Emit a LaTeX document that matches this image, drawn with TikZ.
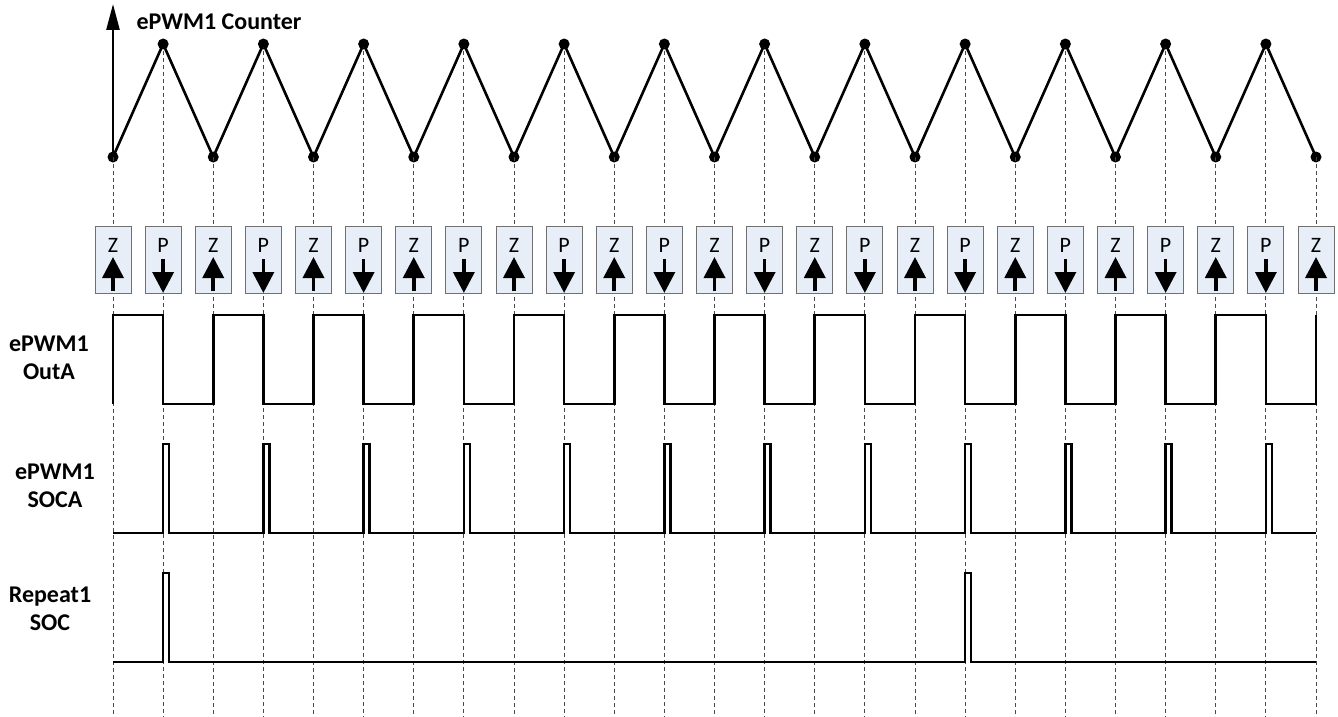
\documentclass[tikz,border=0pt]{standalone}
\usepackage{fontspec}
\setmainfont{Carlito}
\usetikzlibrary{arrows.meta}
\definecolor{EvtFill}{HTML}{E8EEF8}
\definecolor{EvtLine}{HTML}{707070}
\definecolor{GuideGray}{HTML}{4A4A4A}

\tikzset{
  evtbox/.style={draw=EvtLine, fill=EvtFill, line width=0.9pt, minimum width=36pt, minimum height=67pt, inner sep=0pt},
  evtlabel/.style={font=\fontsize{22}{24}\selectfont, inner sep=0pt},
  evtarrow/.style={line width=3.6pt, -{Triangle[width=21pt,length=21pt]}},
  cntdot/.style={circle, fill=black, inner sep=0pt, minimum size=11pt},
  wave/.style={line width=2.6pt, line join=miter},
  guide/.style={GuideGray, dash pattern=on 4pt off 3pt, line width=0.8pt},
  siglabel/.style={font=\bfseries\fontsize{24}{28}\selectfont, align=center},
}

\begin{document}
\begin{tikzpicture}[x=1pt, y=-1pt]
  \useasboundingbox (0,0) rectangle (1338,717);

  % counter dots, guide ends and signal levels
  \foreach \i in {0,...,24} {
    \pgfmathsetmacro{\xx}{113+\i*50.125}
    \ifodd\i
      \node[cntdot] (c\i) at (\xx,44) {};
    \else
      \node[cntdot] (c\i) at (\xx,157) {};
    \fi
    \coordinate (g\i) at (\xx,717);
    \coordinate (ahi\i) at (\xx,315);
    \coordinate (alo\i) at (\xx,404);
    \coordinate (shi\i) at (\xx,444);
    \coordinate (slo\i) at (\xx,533);
    \coordinate (rhi\i) at (\xx,573);
    \coordinate (rlo\i) at (\xx,662);
  }

  % dashed guides
  \foreach \i in {0,...,24}
    \draw[guide] (c\i.center) -- (g\i);

  % counter
  \draw[line width=2.6pt, -{Triangle[width=13pt,length=26pt]}] (c0.center) -- (113,4);
  \node[anchor=west, font=\bfseries\fontsize{24}{28}\selectfont] (cnt) at (133,22) {ePWM1 Counter};
  \foreach \i [remember=\i as \j (initially 0)] in {1,...,24}
    \draw[wave] (c\j.center) -- (c\i.center);

  % zero / period events
  \foreach \i in {0,...,24} {
    \pgfmathsetmacro{\xx}{113+\i*50.125}
    \node[evtbox] (e\i) at (\xx,260) {};
    \ifodd\i
      \node[evtlabel] (t\i) at (\xx,245) {P};
      \draw[evtarrow] (\xx,259) -- (\xx,293);
    \else
      \node[evtlabel] (t\i) at (\xx,245) {Z};
      \draw[evtarrow] (\xx,291) -- (\xx,257);
    \fi
  }

  % ePWM1 OutA
  \node[siglabel] (outa) at (49,358) {ePWM1\\OutA};
  \draw[wave] (alo0)
    \foreach \i [evaluate=\i as \j using int(\i+1)] in {0,2,...,22} {
      -- (alo\i) -- (ahi\i) -- (ahi\j) -- (alo\j)
    } -- (alo24) -- (ahi24);

  % ePWM1 SOCA
  \node[siglabel] (soca) at (55,486) {ePWM1\\SOCA};
  \draw[wave] (slo0)
    \foreach \i in {1,3,...,23} {
      -- (slo\i) -- (shi\i) -- ([xshift=6pt]shi\i) -- ([xshift=6pt]slo\i)
    } -- (slo24);

  % Repeat1 SOC
  \node[siglabel] (rsoc) at (50,609) {Repeat1\\SOC};
  \draw[wave] (rlo0)
    \foreach \i in {1,17} {
      -- (rlo\i) -- (rhi\i) -- ([xshift=6pt]rhi\i) -- ([xshift=6pt]rlo\i)
    } -- (rlo24);
\end{tikzpicture}
\end{document}
